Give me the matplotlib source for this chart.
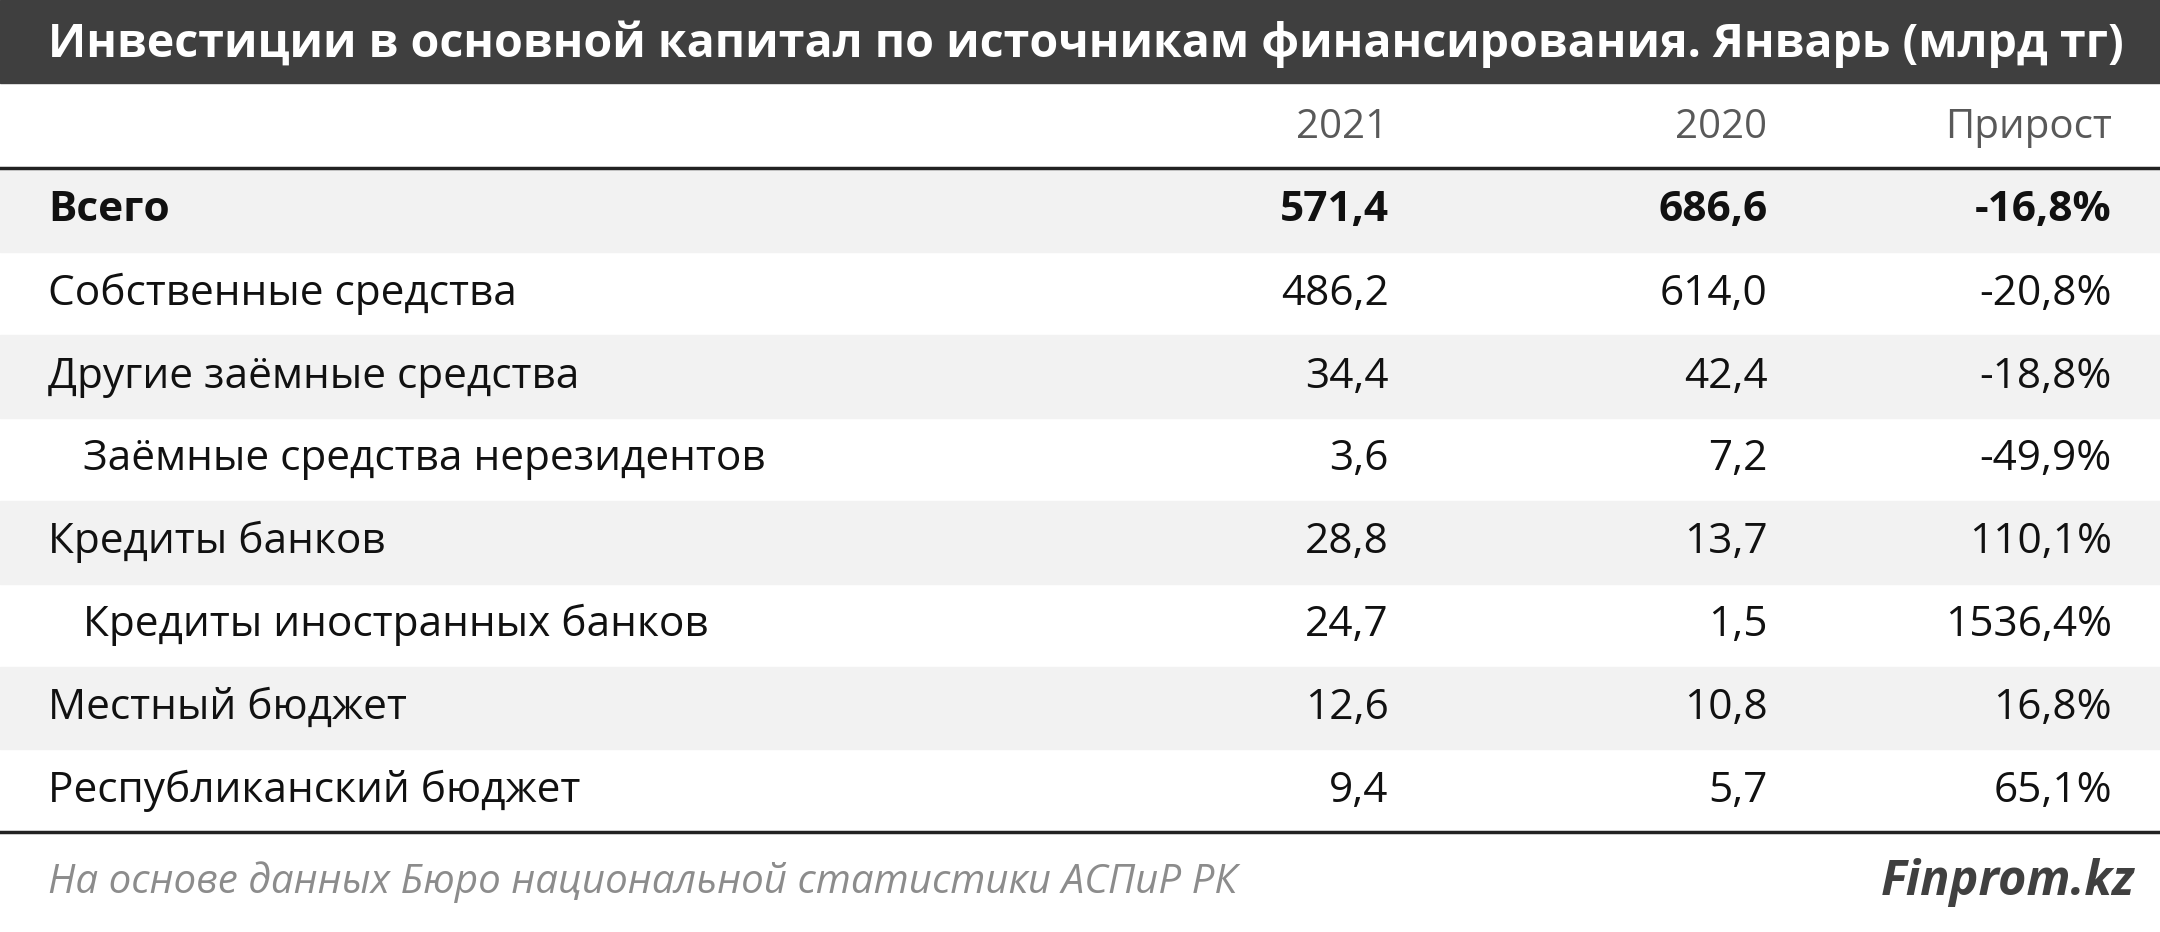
import matplotlib
matplotlib.use("Agg")
import matplotlib.pyplot as plt
from matplotlib.patches import Rectangle

title = "Инвестиции в основной капитал по источникам финансирования. Январь (млрд тг)"
columns = ["2021", "2020", "Прирост"]
labels = ["Всего", "Собственные средства", "Другие заёмные средства",
          "Заёмные средства нерезидентов", "Кредиты банков",
          "Кредиты иностранных банков", "Местный бюджет", "Республиканский бюджет"]
indent = [False, False, False, True, False, True, False, False]
v2021 = ["571,4", "486,2", "34,4", "3,6", "28,8", "24,7", "12,6", "9,4"]
v2020 = ["686,6", "614,0", "42,4", "7,2", "13,7", "1,5", "10,8", "5,7"]
growth = ["-16,8%", "-20,8%", "-18,8%", "-49,9%", "110,1%", "1536,4%", "16,8%", "65,1%"]
source = "На основе данных Бюро национальной статистики АСПиР РК"
brand = "Finprom.kz"

plt.rcParams['font.family'] = ['Open Sans', 'DejaVu Sans']
W, H = 1568, 677
fig = plt.figure(figsize=(21.6, 9.32), dpi=100)
ax = fig.add_axes([0, 0, 1, 1])
ax.set_xlim(0, W)
ax.set_ylim(H, 0)
ax.axis("off")

fs = 30.5
ax.add_patch(Rectangle((0, 0), W, 60, color="#3f3f3f"))
ax.text(35, 32, title, color="white", fontsize=33.5, fontweight="bold", va="center")

xs = [1008, 1283, 1533]
for x, c in zip(xs, columns):
    ax.text(x, 93, c, fontsize=29, color="#595959", ha="right", va="center")

top, rh = 123, 60.2
for i, lab in enumerate(labels):
    y0 = top + i * rh
    if i % 2 == 0:
        ax.add_patch(Rectangle((0, y0), W, rh, color="#f2f2f2", zorder=0))
    yc = y0 + rh / 2
    w = "bold" if i == 0 else "normal"
    ax.text(60 if indent[i] else 35, yc, lab, fontsize=fs, fontweight=w, va="center", color="#111111")
    for x, v in zip(xs, [v2021[i], v2020[i], growth[i]]):
        ax.text(x, yc, v, fontsize=fs, fontweight=w, ha="right", va="center", color="#111111")

ax.plot([0, W], [122, 122], color="#222222", lw=2.5)
ax.plot([0, W], [604, 604], color="#222222", lw=2.5)
ax.text(35, 641, source, fontsize=29, style="italic", color="#8c8c8c", va="center")
ax.text(1550, 641, brand, fontsize=35, fontweight="bold", style="italic", color="#404040",
        ha="right", va="center")

fig.savefig("out.png", dpi=100)
